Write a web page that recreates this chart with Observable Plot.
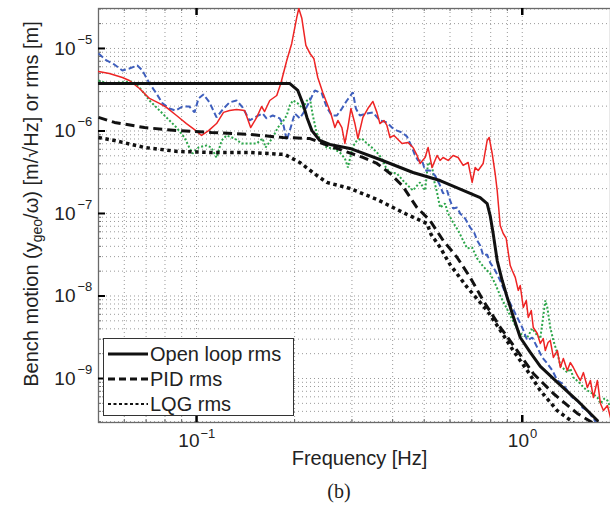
<!DOCTYPE html>
<html><head><meta charset="utf-8">
<script src="https://cdn.jsdelivr.net/npm/d3@7"></script>
<script src="https://cdn.jsdelivr.net/npm/@observablehq/plot@0.6"></script>
<style>
body{margin:0;background:#fff;}
#wrap{position:relative;width:610px;height:510px;overflow:hidden;font-family:"Liberation Sans",Arial,sans-serif;color:#222;}
#legend{position:absolute;left:103px;top:338px;width:189px;height:76px;border:1.5px solid #333;background:#fff;}
#legend .row{position:absolute;left:0;height:24px;display:flex;align-items:center;}
#legend svg{display:block;margin-left:4px;}
#legend span{font-size:20px;margin-left:2px;line-height:24px;}
#cap{position:absolute;left:299px;width:80px;top:479px;text-align:center;font-family:"Liberation Serif","Times New Roman",serif;font-size:20px;line-height:24px;color:#222;}
</style></head><body>
<div id="wrap"><div id="chart"></div><div id="legend"></div><div id="cap">(b)</div></div>
<script>
// ---- data (frequency [Hz], value) ----
const redSpectrum = [[0.05,5.26e-6],[0.054,4.98e-6],[0.0592,4.45e-6],[0.0622,4.09e-6],[0.0668,3.27e-6],[0.0717,2.48e-6],[0.0769,2.16e-6],[0.0808,1.93e-6],[0.0868,1.54e-6],[0.0931,1.23e-6],[0.0986,1.04e-6],[0.1036,8.82e-7],[0.1089,1.01e-6],[0.1152,1.23e-6],[0.121,1.68e-6],[0.1263,1.77e-6],[0.1327,1.82e-6],[0.1405,1.77e-6],[0.1466,1.10e-6],[0.153,1.46e-6],[0.1584,1.98e-6],[0.1618,1.72e-6],[0.1678,2.34e-6],[0.1763,2.69e-6],[0.1814,3.76e-6],[0.1892,7.15e-6],[0.196,1.15e-5],[0.2031,2.38e-5],[0.206,3.05e-5],[0.2105,2.32e-5],[0.2166,1.09e-5],[0.2229,8.7e-6],[0.2291,7.57e-6],[0.2356,4.45e-6],[0.2441,2.93e-6],[0.2529,2.04e-6],[0.2584,1.63e-6],[0.2659,1.10e-6],[0.2716,1.34e-6],[0.2794,1.10e-6],[0.2854,7.06e-7],[0.2915,1.10e-6],[0.2978,1.87e-6],[0.3063,1.23e-6],[0.3129,8.11e-7],[0.3241,1.46e-6],[0.3357,1.87e-6],[0.3479,2.28e-6],[0.3579,1.68e-6],[0.3656,1.23e-6],[0.3761,1.34e-6],[0.3841,1.166e-6],[0.3925,8.34e-7],[0.4038,8.82e-7],[0.4125,8.11e-7],[0.4273,7.06e-7],[0.4457,7.26e-7],[0.462,6.31e-7],[0.4753,5.05e-7],[0.4856,4.04e-7],[0.5031,4.77e-7],[0.514,6.31e-7],[0.5285,3.61e-7],[0.5475,5.05e-7],[0.5593,4.39e-7],[0.5713,4.77e-7],[0.592,4.39e-7],[0.6133,5.05e-7],[0.6355,4.77e-7],[0.6584,3.82e-7],[0.6821,4.15e-7],[0.7017,2.38e-7],[0.7168,3.61e-7],[0.7322,3.32e-7],[0.7586,4.04e-7],[0.7803,7.67e-7],[0.7914,8.34e-7],[0.8084,5.34e-7],[0.8257,3.05e-7],[0.8376,1.90e-7],[0.8556,7.16e-8],[0.874,5.72e-8],[0.8928,4.98e-8],[0.9056,3.37e-8],[0.9185,2.34e-8],[0.9316,2.04e-8],[0.9517,1.68e-8],[0.9722,1.17e-8],[0.9859,1.34e-8],[1.0071,7.26e-9],[1.0287,8.83e-9],[1.0434,5.49e-9],[1.0658,6.67e-9],[1.081,4.15e-9],[1.112,3.51e-9],[1.136,2.66e-9],[1.16,3.05e-9],[1.177,2.18e-9],[1.2,2.73e-9],[1.219,2.89e-9],[1.246,1.80e-9],[1.282,2.18e-9],[1.309,1.36e-9],[1.337,1.75e-9],[1.375,1.25e-9],[1.405,1.56e-9],[1.435,1.36e-9],[1.476,1.09e-9],[1.508,9.46e-10],[1.541,1.18e-9],[1.585,7.78e-10],[1.619,9.46e-10],[1.653,5.89e-10],[1.701,9.46e-10],[1.738,4.97e-10],[1.775,4.09e-10],[1.826,4.71e-10],[1.866,3.37e-10]];

const blueSpectrum = [[0.05,8.7e-6],[0.0529,7.15e-6],[0.0559,6.4e-6],[0.0592,5.41e-6],[0.0622,5.72e-6],[0.0658,6.22e-6],[0.0682,5.41e-6],[0.0717,3.76e-6],[0.0753,2.85e-6],[0.0786,2.16e-6],[0.0826,1.87e-6],[0.0862,1.77e-6],[0.0905,1.98e-6],[0.095,1.98e-6],[0.0986,1.68e-6],[0.1014,2.48e-6],[0.105,2.77e-6],[0.1096,2.22e-6],[0.1152,1.46e-6],[0.121,1.87e-6],[0.1263,2.22e-6],[0.1327,2.34e-6],[0.1385,1.93e-6],[0.1455,1.34e-6],[0.153,1.50e-6],[0.1595,1.63e-6],[0.164,1.42e-6],[0.1714,1.54e-6],[0.1801,1.42e-6],[0.185,1.166e-6],[0.1892,7.67e-7],[0.1933,1.01e-6],[0.2003,1.63e-6],[0.2075,1.42e-6],[0.2151,1.77e-6],[0.2229,2.34e-6],[0.2307,3.10e-6],[0.2424,2.85e-6],[0.2511,1.93e-6],[0.2603,1.54e-6],[0.2697,1.54e-6],[0.2794,1.87e-6],[0.2895,2.34e-6],[0.2957,2.62e-6],[0.302,2.93e-6],[0.3085,1.87e-6],[0.3173,1.54e-6],[0.3334,1.63e-6],[0.3479,1.68e-6],[0.3656,1.34e-6],[0.3841,1.27e-6],[0.3981,1.10e-6],[0.4125,1.01e-6],[0.4273,9.6e-7],[0.4426,8.58e-7],[0.4588,6.31e-7],[0.4686,5.05e-7],[0.4787,4.39e-7],[0.4925,4.39e-7],[0.5031,3.32e-7],[0.521,3.32e-7],[0.5398,2.89e-7],[0.5593,2.18e-7],[0.5713,1.75e-7],[0.5878,1.90e-7],[0.6004,1.44e-7],[0.6133,1.15e-7],[0.631,1.18e-7],[0.6446,1.0e-7],[0.6678,8.7e-8],[0.6918,6.77e-8],[0.7117,5.88e-8],[0.727,4.71e-8],[0.7427,4.1e-8],[0.7586,3.10e-8],[0.7803,3.18e-8],[0.797,2.54e-8],[0.8257,2.04e-8],[0.8556,1.54e-8],[0.8802,1.17e-8],[0.8992,9.6e-9],[0.9316,7.26e-9],[0.9653,5.49e-9],[1.0,4.15e-9],[1.036,2.89e-9],[1.0734,3.14e-9],[1.112,2.38e-9],[1.152,1.80e-9],[1.194,1.52e-9],[1.237,1.25e-9],[1.282,9.46e-10],[1.328,8.7e-10],[1.375,7.16e-10],[1.425,5.89e-10],[1.476,5.41e-10],[1.53,4.45e-10],[1.585,4.09e-10],[1.642,3.37e-10],[1.689,2.93e-10]];

const greenSpectrum = [[0.05,4.09e-6],[0.0533,3.76e-6],[0.0588,3.87e-6],[0.0631,3.98e-6],[0.0668,3.37e-6],[0.0717,2.34e-6],[0.0786,1.63e-6],[0.0868,1.10e-6],[0.0918,8.34e-7],[0.095,6.31e-7],[0.0972,5.34e-7],[0.1014,6.31e-7],[0.1073,6.67e-7],[0.111,6.31e-7],[0.1152,4.77e-7],[0.1194,7.67e-7],[0.1236,8.82e-7],[0.1309,8.11e-7],[0.1375,7.06e-7],[0.1455,7.06e-7],[0.153,7.06e-7],[0.1595,8.11e-7],[0.1629,6.31e-7],[0.1714,8.34e-7],[0.1776,1.10e-6],[0.184,1.30e-6],[0.1892,1.54e-6],[0.1933,2.04e-6],[0.1975,2.34e-6],[0.2046,2.16e-6],[0.212,1.87e-6],[0.2182,2.34e-6],[0.2229,2.48e-6],[0.2275,1.54e-6],[0.234,9.33e-7],[0.2424,7.26e-7],[0.2511,6.31e-7],[0.2621,6.14e-7],[0.2754,5.49e-7],[0.2854,4.64e-7],[0.2915,3.61e-7],[0.302,6.49e-7],[0.3107,7.67e-7],[0.3218,8.11e-7],[0.3334,7.06e-7],[0.3454,6.31e-7],[0.3579,5.49e-7],[0.3708,4.64e-7],[0.3814,3.61e-7],[0.3925,3.14e-7],[0.4125,3.05e-7],[0.4303,2.51e-7],[0.4457,2.18e-7],[0.462,1.90e-7],[0.4753,2.18e-7],[0.4856,2.38e-7],[0.5031,1.90e-7],[0.514,4.15e-7],[0.5285,3.82e-7],[0.536,2.51e-7],[0.5475,1.8e-7],[0.5593,1.18e-7],[0.5795,1.32e-7],[0.592,1.0e-7],[0.6133,7.77e-8],[0.6355,6.22e-8],[0.6584,4.71e-8],[0.6773,3.77e-8],[0.7017,3.87e-8],[0.727,2.85e-8],[0.7586,2.28e-8],[0.797,1.87e-8],[0.8257,1.41e-8],[0.8556,1.01e-8],[0.8865,7.67e-9],[0.9185,5.8e-9],[0.9517,4.39e-9],[0.9859,3.51e-9],[1.036,3.14e-9],[1.0734,4.04e-9],[1.112,3.32e-9],[1.136,3.05e-9],[1.177,8.83e-9],[1.194,7.26e-9],[1.219,4.15e-9],[1.246,2.89e-9],[1.282,2.01e-9],[1.309,1.44e-9],[1.375,1.18e-9],[1.405,1.32e-9],[1.435,1.03e-9],[1.508,8.7e-10],[1.541,7.78e-10],[1.585,7.16e-10],[1.642,6.58e-10],[1.701,5.89e-10],[1.738,4.97e-10],[1.788,5.73e-10],[1.826,5.41e-10],[1.866,4.45e-10]];

const openLoopRms = [[0.05,3.77e-6],[0.193,3.77e-6],[0.2046,3.10e-6],[0.212,2.16e-6],[0.2182,1.46e-6],[0.226,1.01e-6],[0.239,7.67e-7],[0.2566,6.86e-7],[0.2957,6.14e-7],[0.3656,4.51e-7],[0.462,3.14e-7],[0.5593,2.51e-7],[0.6584,1.90e-7],[0.7427,1.56e-7],[0.7803,1.32e-7],[0.797,9.45e-8],[0.8141,5.72e-8],[0.8376,2.69e-8],[0.8678,1.54e-8],[0.8992,9.6e-9],[0.9316,6.14e-9],[0.9859,3.14e-9],[1.0583,2.07e-9],[1.136,1.40e-9],[1.282,9.0e-10],[1.476,5.41e-10],[1.701,3.10e-10]];

const pidRms = [[0.05,1.46e-6],[0.056,1.27e-6],[0.0692,1.10e-6],[0.0874,1.01e-6],[0.111,9.6e-7],[0.146,9.07e-7],[0.184,8.34e-7],[0.223,8.1e-7],[0.244,7.05e-7],[0.281,5.8e-7],[0.324,4.78e-7],[0.358,4.04e-7],[0.393,3.05e-7],[0.428,2.18e-7],[0.475,1.18e-7],[0.521,8.2e-8],[0.572,4.7e-8],[0.631,2.93e-8],[0.692,1.68e-8],[0.759,8.8e-9],[0.857,4.15e-9],[0.965,2.18e-9],[1.081,1.15e-9],[1.246,6.58e-10],[1.476,3.77e-10],[1.64,2.93e-10]];

const lqgRms = [[0.05,8.34e-7],[0.056,7.67e-7],[0.0692,6.31e-7],[0.0874,5.65e-7],[0.111,5.49e-7],[0.146,5.49e-7],[0.1866,5.19e-7],[0.2075,4.15e-7],[0.234,2.89e-7],[0.251,2.38e-7],[0.296,2.01e-7],[0.358,1.48e-7],[0.443,9.72e-8],[0.51,7.57e-8],[0.525,5.56e-8],[0.56,3.87e-8],[0.60,2.41e-8],[0.678,1.27e-8],[0.78,6.67e-9],[0.857,3.82e-9],[0.938,2.18e-9],[1.036,1.25e-9],[1.136,7.16e-10],[1.28,4.09e-10],[1.436,2.93e-10]];

const xDomain = [0.05, 1.866];
const yDomain = [2.93e-10, 3.05e-5];
const xMajor = [0.1, 1];
const xMajorExp = ["\u22121", "0"];
const yMajor = [1e-9, 1e-8, 1e-7, 1e-6, 1e-5];
const yMajorExp = ["\u22129", "\u22128", "\u22127", "\u22126", "\u22125"];
const mantissas = [1,2,3,4,5,6,7,8,9];
const legendLabels = ["Open loop rms", "PID rms", "LQG rms"];
const xLabel = "Frequency [Hz]";

// minor grid positions (decade × mantissa, within the domain)
const xGrid = [-2,-1,0].flatMap(e => mantissas.map(m => m*10**e)).filter(v => v >= xDomain[0]*0.999 && v <= xDomain[1]);
const yGrid = [-10,-9,-8,-7,-6,-5].flatMap(e => mantissas.map(m => +(m*10**e).toPrecision(3))).filter(v => v >= yDomain[0] && v <= yDomain[1]);

// ---- layout ----
const W = 610, H = 478, mL = 98, mT = 8, mR = 0, mB = 56;
const fw = W - mL - mR, fh = H - mT - mB;
const gridStyle = {stroke: "#9a9a9a", strokeWidth: 1, strokeDasharray: "1,3"};
const fx = d => d[0], fy = d => d[1];
const butt = {strokeLinecap: "butt", strokeLinejoin: "miter", clip: true};

const marks = [
  Plot.ruleX(xGrid, {x: d => d, ...gridStyle}),
  Plot.ruleY(yGrid, {y: d => d, ...gridStyle}),
  // minor ticks
  Plot.tickX(xGrid, {x: d => d, insetTop: fh - 3, stroke: "#666"}),
  Plot.tickX(xGrid, {x: d => d, insetBottom: fh - 3, stroke: "#666"}),
  Plot.tickY(yGrid, {y: d => d, insetRight: fw - 3, stroke: "#666"}),
  Plot.frame({stroke: "#6a6a6a", strokeWidth: 1.3}),
  // spectra
  Plot.line(greenSpectrum, {x: fx, y: fy, stroke: "#2ca64a", strokeWidth: 2, strokeDasharray: "2,2", ...butt}),
  Plot.line(blueSpectrum, {x: fx, y: fy, stroke: "#3f5fbd", strokeWidth: 2, strokeDasharray: "6,3", ...butt}),
  Plot.line(redSpectrum, {x: fx, y: fy, stroke: "#ee2424", strokeWidth: 1.5, clip: true}),
  // rms curves
  Plot.line(lqgRms, {x: fx, y: fy, stroke: "#111", strokeWidth: 3.5, strokeDasharray: "3.5,3.5", ...butt}),
  Plot.line(pidRms, {x: fx, y: fy, stroke: "#111", strokeWidth: 3, strokeDasharray: "9,5", ...butt}),
  Plot.line(openLoopRms, {x: fx, y: fy, stroke: "#111", strokeWidth: 3, clip: true}),
  // major ticks
  Plot.tickX(xMajor, {x: d => d, insetTop: fh - 7, stroke: "#000", strokeWidth: 2.5}),
  Plot.tickX(xMajor, {x: d => d, insetBottom: fh - 7, stroke: "#000", strokeWidth: 2.5}),
  Plot.tickY(yMajor, {y: d => d, insetRight: fw - 7, stroke: "#000", strokeWidth: 2}),
  // y tick labels: 10 with superscript exponent
  Plot.text(yMajor, {y: d => d, frameAnchor: "left", text: () => "10", textAnchor: "end", dx: -23, fontSize: 19, fill: "#222"}),
  Plot.text(yMajor, {y: d => d, frameAnchor: "left", text: (d, i) => yMajorExp[i], textAnchor: "start", dx: -21, dy: -9, fontSize: 13, fill: "#222"}),
  // x tick labels
  ...xMajor.map((t, i) => {
    const ew = 7.6 * xMajorExp[i].length;
    const dx = 21 - (21 + ew) / 2;
    return [
      Plot.text([t], {x: d => d, frameAnchor: "bottom", text: () => "10", textAnchor: "end", dx, dy: 24, fontSize: 19, fill: "#222"}),
      Plot.text([t], {x: d => d, frameAnchor: "bottom", text: () => xMajorExp[i], textAnchor: "start", dx: dx + 1, dy: 15, fontSize: 13, fill: "#222"})
    ];
  }).flat(),
  Plot.text([xLabel], {frameAnchor: "bottom", text: d => d, dx: 5, dy: 42, fontSize: 20, fill: "#222"})
];

const svg = Plot.plot({
  width: W, height: H,
  marginLeft: mL, marginTop: mT, marginRight: mR, marginBottom: mB,
  style: {fontFamily: "'Liberation Sans', Arial, sans-serif", background: "#fff", overflow: "visible"},
  x: {type: "log", domain: xDomain, axis: null},
  y: {type: "log", domain: yDomain, axis: null},
  marks
});
document.getElementById("chart").appendChild(svg);

// rotated y-axis title with subscript
const yt = d3.select(svg).append("text")
  .attr("transform", "translate(33,204) rotate(-90)")
  .attr("text-anchor", "middle")
  .attr("dominant-baseline", "middle")
  .attr("font-size", 20)
  .attr("fill", "#222")
  .attr("font-family", "'Liberation Sans', Arial, sans-serif");
yt.append("tspan").text("Bench motion (y");
yt.append("tspan").attr("font-size", 14).attr("dy", 5).text("geo");
yt.append("tspan").attr("dy", -5).text("/\u03c9) [m/\u221aHz] or rms [m]");

// legend
const legendStyles = [
  {dash: null, w: 3.2},
  {dash: "7,4", w: 3.2},
  {dash: "3,2.5", w: 2.2}
];
const lg = document.getElementById("legend");
legendLabels.forEach((lab, i) => {
  const row = document.createElement("div");
  row.className = "row";
  row.style.top = (3 + i * 25) + "px";
  const s = legendStyles[i];
  row.innerHTML = `<svg width="40" height="10"><line x1="0" y1="5" x2="40" y2="5" stroke="#111" stroke-width="${s.w}" ${s.dash ? `stroke-dasharray="${s.dash}"` : ""}/></svg><span>${lab}</span>`;
  lg.appendChild(row);
});
</script>
</body></html>
